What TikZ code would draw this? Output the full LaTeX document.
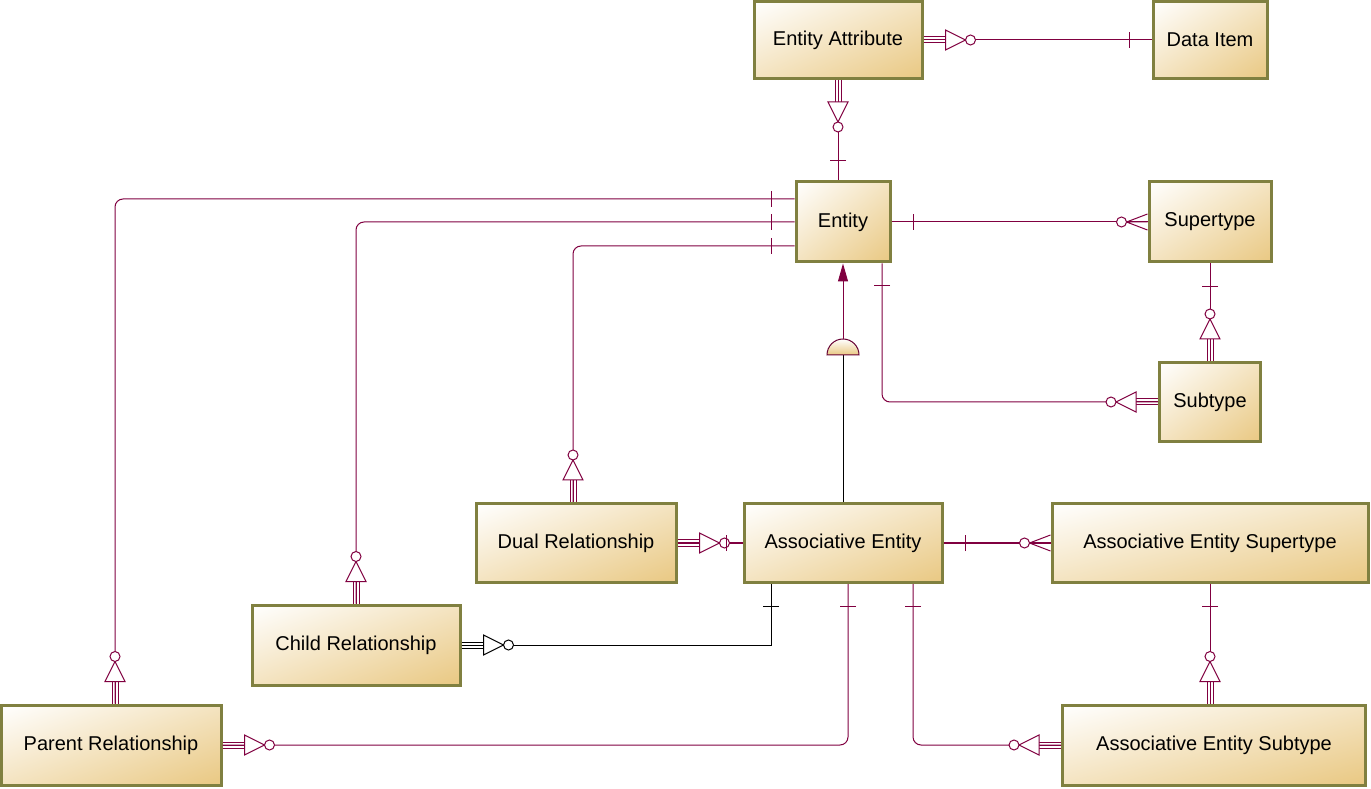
\documentclass[tikz,border=0pt]{standalone}
\usepackage{fontspec}
\setmainfont{Liberation Sans}
\usetikzlibrary{arrows.meta, shadings}
\definecolor{boxline}{RGB}{128,128,64}
\definecolor{boxtan}{RGB}{233,200,130}
\definecolor{rel}{RGB}{128,0,64}

\tikzset{
  entbox/.style={draw=boxline, line width=3pt, inner sep=0pt,
    upper left=white, lower right=boxtan, upper right=boxtan!50, lower left=boxtan!50,
    font=\fontsize{20}{24}\selectfont},
  conn/.style={draw=rel, line width=1pt, rounded corners=8pt},
  pics/zmany/.style={code={
    \draw[line width=1pt] (0,3)--(22,3) (0,0)--(22,0) (0,-3)--(22,-3);
    \draw[line width=1pt, fill=white] (22,10)--(22,-10)--(42,0)--cycle;
    \draw[line width=1pt, fill=white] (47,0) circle (5);}},
  pics/zcrow/.style={code={
    \draw[line width=1pt] (0,8)--(21,0) (0,0)--(21,0) (0,-8)--(21,0);
    \draw[line width=1pt, fill=white] (26,0) circle (5);}},
  pics/tick/.style={code={\draw[line width=1pt] (0,-8)--(0,8);}}
}

\begin{document}
\begin{tikzpicture}[x=1pt, y=1pt]
    \useasboundingbox (0,0) rectangle (1371,788);

    % boxes
    \node[entbox, minimum width=168, minimum height=77] (att) at (838,748) {Entity Attribute};
    \node[entbox, minimum width=114, minimum height=77] (dat) at (1210,748) {Data Item};
    \node[entbox, minimum width=94, minimum height=80] (ent) at (843,566) {Entity};
    \node[entbox, minimum width=122, minimum height=80] (sup) at (1210,566) {Supertype};
    \node[entbox, minimum width=101, minimum height=79] (sub) at (1210,386) {Subtype};
    \node[entbox, minimum width=200, minimum height=79] (dual) at (576,245) {Dual Relationship};
    \node[entbox, minimum width=198, minimum height=79] (ase) at (843,245) {Associative Entity};
    \node[entbox, minimum width=316, minimum height=79] (asup) at (1210,245) {Associative Entity Supertype};
    \node[entbox, minimum width=208, minimum height=80] (child) at (356,143) {Child Relationship};
    \node[entbox, minimum width=220, minimum height=80] (par) at (111,43) {Parent Relationship};
    \node[entbox, minimum width=303, minimum height=80] (asub) at (1214,43) {Associative Entity Subtype};

    % attribute links
    \draw[conn] (att.east) -- (dat.west);
    \pic[rel] at (att.east) {zmany};
    \pic[rel] at ([xshift=-22pt]dat.west) {tick};
    \draw[conn] (att.south) -- (att.south |- ent.north);
    \pic[rel, rotate=-90] at (att.south) {zmany};
    \pic[rel, rotate=90] at ([yshift=20pt]att.south |- ent.north) {tick};

    % relationships back to entity
    \draw[conn] ([yshift=23pt]ent.west) -| ([xshift=4pt]par.north);
    \draw[conn] (ent.west) -| (child.north);
    \draw[conn] ([yshift=-24pt]ent.west) -| ([xshift=-3pt]dual.north);
    \foreach \dy in {23,0,-24}
      \pic[rel] at ([xshift=-23pt, yshift=\dy pt]ent.west) {tick};
    \pic[rel, rotate=90] at ([xshift=4pt]par.north) {zmany};
    \pic[rel, rotate=90] at (child.north) {zmany};
    \pic[rel, rotate=90] at ([xshift=-3pt]dual.north) {zmany};

    % supertype / subtype
    \draw[conn] (ent.east) -- (sup.west);
    \pic[rel] at ([xshift=22pt]ent.east) {tick};
    \pic[rel, rotate=180] at (sup.west) {zcrow};
    \draw[conn] (sup.south) -- (sub.north);
    \pic[rel, rotate=90] at ([yshift=-23pt]sup.south) {tick};
    \pic[rel, rotate=90] at (sub.north) {zmany};
    \draw[conn] ([xshift=39pt]ent.south) |- (sub.west);
    \pic[rel, rotate=90] at ([xshift=39pt, yshift=-22pt]ent.south) {tick};
    \pic[rel, rotate=180] at (sub.west) {zmany};

    % associative entity as entity
    \coordinate (join) at (843,433);
    \draw[line width=1pt] (ase.north) -- (join);
    \draw[line width=1pt, draw=rel!80!black, top color=white, bottom color=boxtan]
      (827,433) arc (180:0:16) -- cycle;
    \draw[rel, line width=1pt, -{Triangle[length=18pt, width=10pt]}] ([yshift=16pt]join) -- (ent.south);

    % links to associative entity
    \draw[conn] (dual.east) -- (ase.west);
    \pic[rel] at (dual.east) {zmany};
    \pic[rel] at ([xshift=-16pt]ase.west) {tick};
    \draw[line width=1pt] (child.east) -| ([xshift=-72pt]ase.south);
    \pic[black] at (child.east) {zmany};
    \pic[black, rotate=90] at ([xshift=-72pt, yshift=-22pt]ase.south) {tick};
    \draw[conn] (par.east) -| ([xshift=5pt]ase.south);
    \pic[rel] at (par.east) {zmany};
    \pic[rel, rotate=90] at ([xshift=5pt, yshift=-22pt]ase.south) {tick};
    \draw[conn] ([xshift=70pt]ase.south) |- (asub.west);
    \pic[rel, rotate=90] at ([xshift=70pt, yshift=-22pt]ase.south) {tick};
    \pic[rel, rotate=180] at (asub.west) {zmany};
    \draw[conn] (ase.east) -- (asup.west);
    \pic[rel] at ([xshift=22pt]ase.east) {tick};
    \pic[rel, rotate=180] at (asup.west) {zcrow};
    \draw[conn] (asup.south) -- (asup.south |- asub.north);
    \pic[rel, rotate=90] at ([yshift=-22pt]asup.south) {tick};
    \pic[rel, rotate=90] at (asup.south |- asub.north) {zmany};

\end{tikzpicture}
\end{document}
